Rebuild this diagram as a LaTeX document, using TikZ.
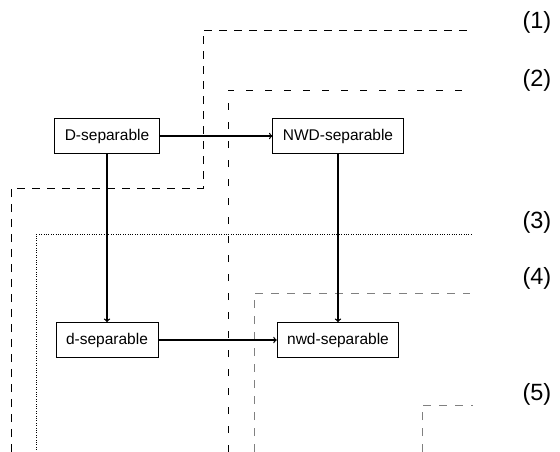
\documentclass[tikz,border=0pt]{standalone}
\usepackage{fontspec}
\setmainfont{Liberation Sans}
\usetikzlibrary{arrows}

\begin{document}
\begin{tikzpicture}[x=1pt,y=-1pt,
  box/.style={draw,line width=0.8pt,inner xsep=10pt,minimum height=35pt,font=\fontsize{15.5}{18}\selectfont},
  impl/.style={->,line width=1.3pt},
  lvl/.style={anchor=west,font=\fontsize{23.5}{28}\selectfont}]
\useasboundingbox (0,0) rectangle (560,452);

% the five regions
\draw[dash pattern=on 8pt off 7pt] (11,452) -- (11,188) -- (203,188) -- (203,30) -- (467,30);
\draw[dash pattern=on 7pt off 12pt] (228,452) -- (228,90) -- (473,90);
\draw[dotted] (36,452) -- (36,234) -- (473,234);
\draw[gray,dash pattern=on 8pt off 8pt] (254,452) -- (254,293) -- (470,293);
\draw[gray,dash pattern=on 8pt off 8pt] (422,452) -- (422,405) -- (473,405);

\node[lvl] (r1) at (519,22) {(1)};
\node[lvl] (r2) at (519,80) {(2)};
\node[lvl] (r3) at (519,222) {(3)};
\node[lvl] (r4) at (519,278) {(4)};
\node[lvl] (r5) at (519,394) {(5)};

\node[box] (v1) at (107,136) {D-separable};
\node[box] (v2) at (338,136) {NWD-separable};
\node[box] (v3) at (107,340) {d-separable};
\node[box] (v4) at (338,340) {nwd-separable};
\draw[impl] (v1) -- (v2);
\draw[impl] (v1) -- (v3);
\draw[impl] (v2) -- (v4);
\draw[impl] (v3) -- (v4);

\end{tikzpicture}
\end{document}
